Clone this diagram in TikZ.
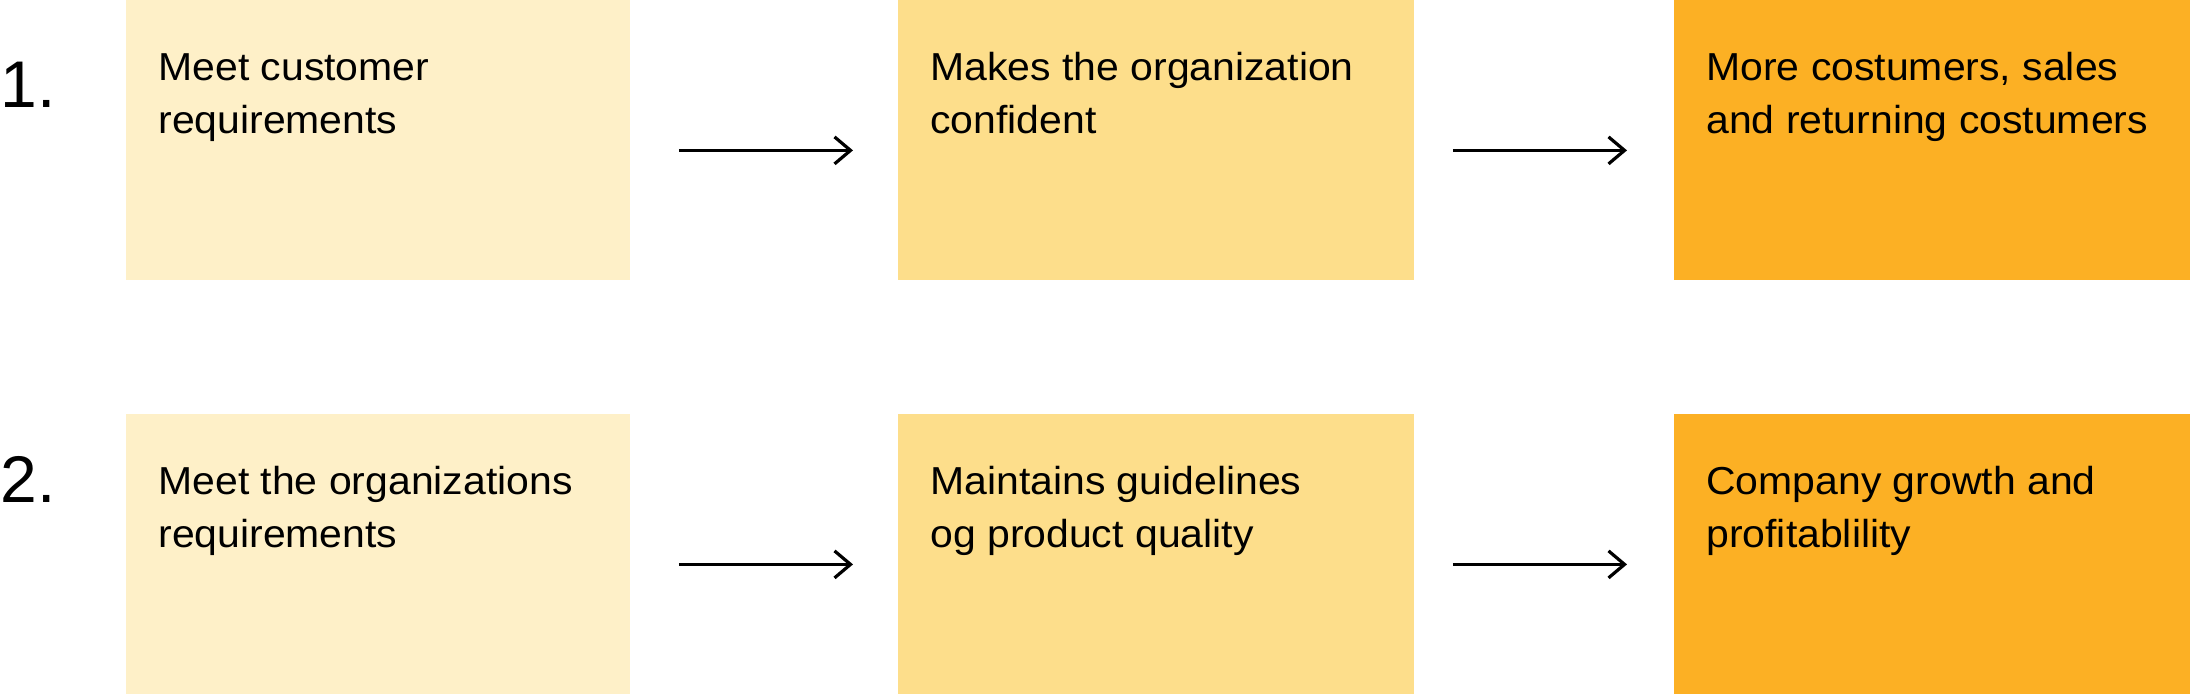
\documentclass[tikz,border=0pt]{standalone}
\usepackage{fontspec}
\setmainfont{Liberation Sans}
\newfontfamily\boxfont[FakeStretch=1.05]{Liberation Sans}
\usetikzlibrary{arrows.meta}
\definecolor{paleyellow}{HTML}{FEF0C8}
\definecolor{midyellow}{HTML}{FDDE8B}
\definecolor{deeporange}{HTML}{FCB024}
\newcommand{\capstrut}{\rule{0pt}{16pt}}

\begin{document}
\begin{tikzpicture}[x=.5pt, y=-.5pt,
  box/.style={anchor=north west, inner sep=0, minimum height=140pt},
  boxtext/.style={anchor=north west, inner sep=0, align=left, font=\boxfont\fontsize{19.5}{26.5}\selectfont},
  rownum/.style={anchor=base west, inner sep=0, font=\fontsize{33}{33}\selectfont},
  flow/.style={line width=1.6pt, -{Straight Barb[length=8pt, width=13.5pt, line width=1.6pt]}}]
\useasboundingbox (0,0) rectangle (2190,694);
\foreach \r/\y in {1/0, 2/414} {
 \node[box, fill=paleyellow, minimum width=252pt] (a\r) at (126,\y) {};
 \node[box, fill=midyellow, minimum width=258pt] (b\r) at (898,\y) {};
 \node[box, fill=deeporange, minimum width=258pt] (c\r) at (1674,\y) {};
 \draw[flow, shorten <=24pt, shorten >=22.5pt] ([yshift=-5pt]a\r.east) -- ([yshift=-5pt]b\r.west);
 \draw[flow, shorten <=19pt, shorten >=23.5pt] ([yshift=-5pt]b\r.east) -- ([yshift=-5pt]c\r.west);
}
\node[rownum] (n1) at (0,108) {1.};
\node[rownum] (n2) at (0,503) {2.};
\node[boxtext] (a1t) at ([xshift=16pt, yshift=-24pt]a1.north west) {\capstrut Meet customer\\requirements};
\node[boxtext] (b1t) at ([xshift=16pt, yshift=-24pt]b1.north west) {\capstrut Makes the organization\\confident};
\node[boxtext] (c1t) at ([xshift=16pt, yshift=-24pt]c1.north west) {\capstrut More costumers, sales\\and returning costumers};
\node[boxtext] (a2t) at ([xshift=16pt, yshift=-24pt]a2.north west) {\capstrut Meet the organizations\\requirements};
\node[boxtext] (b2t) at ([xshift=16pt, yshift=-24pt]b2.north west) {\capstrut Maintains guidelines\\og product quality};
\node[boxtext] (c2t) at ([xshift=16pt, yshift=-24pt]c2.north west) {\capstrut Company growth and\\profitablility};
\end{tikzpicture}
\end{document}
